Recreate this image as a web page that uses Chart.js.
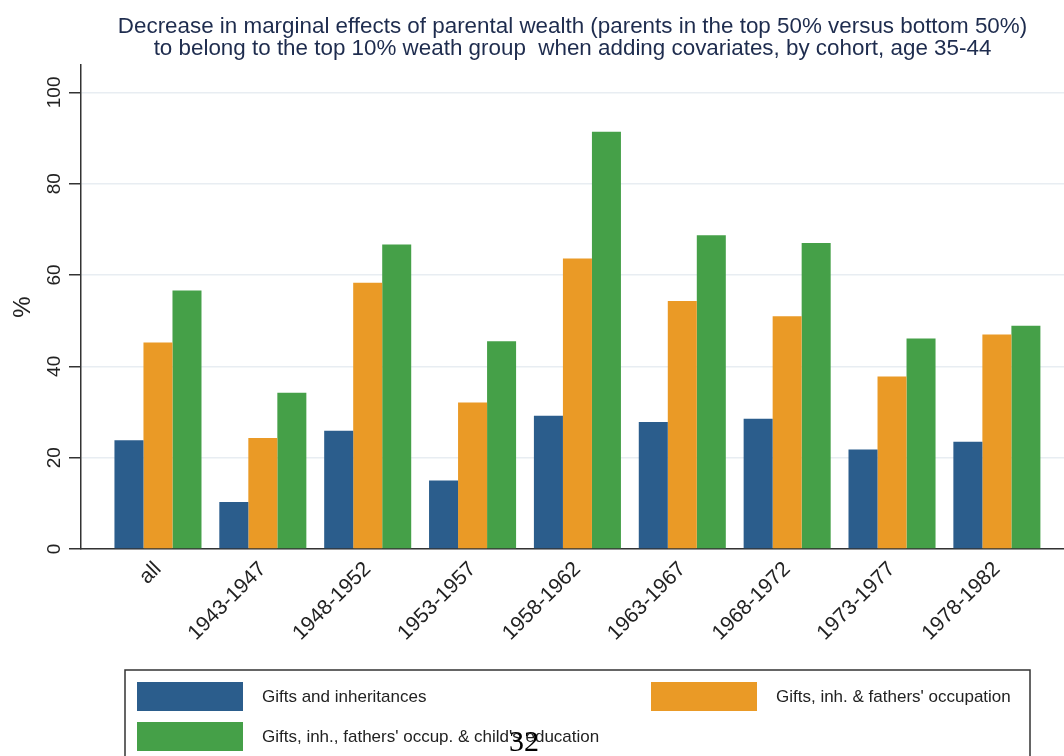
<!DOCTYPE html>
<html><head><meta charset="utf-8">
<script src="https://cdn.jsdelivr.net/npm/chart.js@4.4.1/dist/chart.umd.min.js"></script>
<style>html,body{margin:0;padding:0;background:#fff;overflow:hidden;}#wrap{width:1064px;height:756px;position:relative;}</style>
</head><body><div id="wrap"><canvas id="c" width="1064" height="756"></canvas></div>
<script>
// ---- data ----
const categories = ['all','1943-1947','1948-1952','1953-1957','1958-1962','1963-1967','1968-1972','1973-1977','1978-1982'];
const giftsInheritances   = [23.8, 10.3, 25.9, 15.0, 29.2, 27.8, 28.5, 21.8, 23.5];
const giftsOccupation     = [45.2, 24.3, 58.3, 32.1, 63.6, 54.3, 51.0, 37.8, 47.0];
const giftsOccupEducation = [56.6, 34.2, 66.7, 45.5, 91.4, 68.7, 67.0, 46.1, 48.9];
const seriesLabels = ['Gifts and inheritances', "Gifts, inh. & fathers' occupation", "Gifts, inh., fathers' occup. & child's education"];
const yTicks = [0, 20, 40, 60, 80, 100];
const titleLines = ['Decrease in marginal effects of parental wealth (parents in the top 50% versus bottom 50%)',
                    'to belong to the top 10% weath group  when adding covariates, by cohort, age 35-44'];
const yTitle = '%';
const pageNumber = '32';

// ---- styles ----
const colors = ['#2b5d8c', '#ea9a26', '#45a048'];
const SANS = '"Liberation Sans", Arial, Helvetica, sans-serif';

const yLabelPlugin = {
  id: 'yLabels',
  afterDraw(chart) {
    const ctx = chart.ctx, y = chart.scales.y;
    ctx.save();
    ctx.fillStyle = '#222';
    ctx.font = '19px ' + SANS;
    ctx.textAlign = 'center';
    ctx.textBaseline = 'alphabetic';
    yTicks.forEach(v => {
      const py = y.getPixelForValue(v);
      ctx.save();
      ctx.translate(60, py);
      ctx.rotate(-Math.PI / 2);
      ctx.fillText(String(v), 0, 0);
      ctx.restore();
    });
    ctx.restore();
  }
};

const legendPlugin = {
  id: 'boxLegend',
  afterDraw(chart) {
    const ctx = chart.ctx;
    ctx.save();
    ctx.strokeStyle = '#333';
    ctx.lineWidth = 1.5;
    ctx.strokeRect(125, 670, 905, 120);
    const slots = [{x: 137, y: 682}, {x: 651, y: 682}, {x: 137, y: 722}];
    ctx.font = '17px ' + SANS;
    ctx.textBaseline = 'middle';
    ctx.textAlign = 'left';
    chart.data.datasets.forEach((ds, i) => {
      const s = slots[i];
      ctx.fillStyle = ds.backgroundColor;
      ctx.fillRect(s.x, s.y, 106, 29);
      ctx.fillStyle = '#222';
      ctx.fillText(ds.label, s.x + 125, s.y + 15);
    });
    ctx.fillStyle = '#000';
    ctx.font = '30px "Liberation Serif", "Times New Roman", serif';
    ctx.textAlign = 'center';
    ctx.textBaseline = 'alphabetic';
    ctx.fillText(pageNumber, 524, 751);
    ctx.restore();
  }
};

new Chart(document.getElementById('c'), {
  type: 'bar',
  data: {
    labels: categories.map((c, i) => i),
    datasets: [
      {label: seriesLabels[0], data: giftsInheritances, backgroundColor: colors[0]},
      {label: seriesLabels[1], data: giftsOccupation, backgroundColor: colors[1]},
      {label: seriesLabels[2], data: giftsOccupEducation, backgroundColor: colors[2]}
    ]
  },
  options: {
    responsive: false,
    animation: false,
    devicePixelRatio: 1,
    layout: {padding: {left: 0, right: 0, top: 0, bottom: 0}},
    datasets: {bar: {barPercentage: 1, categoryPercentage: 0.83, borderWidth: 0}},
    plugins: {
      legend: {display: false},
      tooltip: {enabled: false},
      title: {
        display: true, fullSize: false,
        text: titleLines,
        color: '#1e2c4e',
        font: {family: SANS, size: 22.4, weight: 'normal', lineHeight: '22px'},
        padding: {top: 16, bottom: 5}
      }
    },
    scales: {
      x: {
        type: 'linear',
        offset: false,
        min: -0.734, max: 8.64,
        grid: {display: false, offset: false},
        border: {display: true, color: '#333', width: 1.5},
        ticks: {
          stepSize: 1, includeBounds: false, autoSkip: false,
          minRotation: 45, maxRotation: 45,
          color: '#222', font: {family: SANS, size: 21},
          padding: 0,
          callback: v => categories[v] !== undefined ? categories[v] : ''
        },
        afterFit: s => { s.height = 207; }
      },
      y: {
        min: 0, max: 106,
        grid: {color: '#e8edf2', lineWidth: 1.5, tickColor: '#333', tickLength: 12, drawTicks: true},
        border: {display: true, color: '#333', width: 1.5},
        ticks: {stepSize: 20, includeBounds: false, display: false},
        title: {display: true, text: yTitle, color: '#222', font: {family: SANS, size: 24}, padding: {top: 9, bottom: 0}},
        afterFit: s => { s.width = 81; }
      }
    }
  },
  plugins: [yLabelPlugin, legendPlugin]
});
</script>
</body></html>
